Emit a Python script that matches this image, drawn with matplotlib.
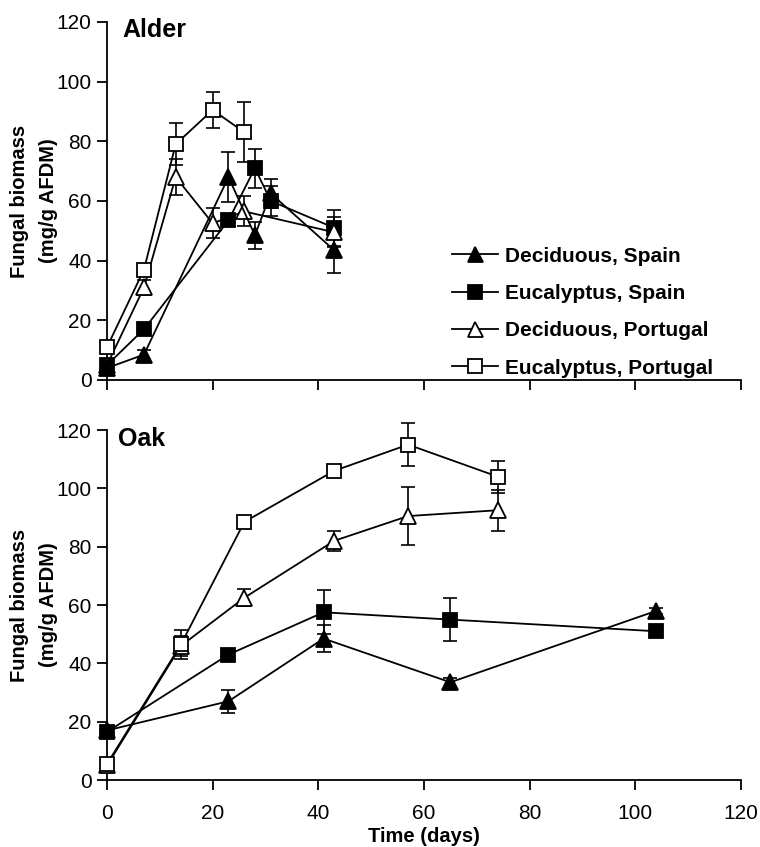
import matplotlib
matplotlib.use("Agg")
import matplotlib.pyplot as plt
from matplotlib.lines import Line2D

# ---- Alder (top panel) ----
alder_spain_days = [0, 7, 23, 28, 31, 43]
alder_dec_spain = [4, 8.5, 68, 48.5, 62.5, 43.5]
alder_dec_spain_err = [0.5, 1.5, 8.5, 4.5, 5, 7.5]
alder_euc_spain = [5, 17, 53.5, 71, 60, 51]
alder_euc_spain_err = [1, 2, 2, 6.5, 5, 6]

alder_port_days = [0, 7, 13, 20, 26, 43]
alder_dec_port = [5, 31, 68, 52.5, 56.5, 49.5]
alder_dec_port_err = [0.5, 2.5, 6, 5, 5, 5]
alder_euc_port_days = [0, 7, 13, 20, 26]
alder_euc_port = [11, 37, 79, 90.5, 83]
alder_euc_port_err = [1, 1.5, 7, 6, 10]

# ---- Oak (bottom panel) ----
oak_spain_days = [0, 23, 41, 65, 104]
oak_dec_spain = [17, 27, 48.5, 33.5, 58]
oak_dec_spain_err = [1, 4, 4.5, 1.5, 1]
oak_euc_spain = [16.5, 43, 57.5, 55, 51]
oak_euc_spain_err = [2, 1.5, 7.5, 7.5, 1]

oak_port_days = [0, 14, 26, 43, 57, 74]
oak_dec_port = [5, 46, 62.5, 82, 90.5, 92.5]
oak_dec_port_err = [0.5, 3.5, 3, 3.5, 10, 7]
oak_euc_port = [5.5, 46.5, 88.5, 106, 115, 104]
oak_euc_port_err = [0.5, 5, 1, 1, 7.5, 5.5]

labels = ["Deciduous, Spain", "Eucalyptus, Spain",
          "Deciduous, Portugal", "Eucalyptus, Portugal"]
xticks = [0, 20, 40, 60, 80, 100, 120]
yticks = [0, 20, 40, 60, 80, 100, 120]

font = ["Liberation Sans", "DejaVu Sans"]
plt.rcParams["font.family"] = font

# marker styles keyed by label
styles = {
    "Deciduous, Spain": dict(marker="^", mfc="black", ms=12),
    "Eucalyptus, Spain": dict(marker="s", mfc="black", ms=10.5),
    "Deciduous, Portugal": dict(marker="^", mfc="white", ms=12),
    "Eucalyptus, Portugal": dict(marker="s", mfc="white", ms=10.5),
}
# drawing order (later on top)
order = ["Eucalyptus, Spain", "Deciduous, Portugal",
         "Deciduous, Spain", "Eucalyptus, Portugal"]


def draw(ax, series):
    for i, lab in enumerate(order):
        x, y, e = series[lab]
        ax.errorbar(x, y, yerr=e, fmt="none", ecolor="black", elinewidth=1.2,
                    capsize=5, capthick=1.2, zorder=2 + i * 0.1, clip_on=False)
        ax.plot(x, y, color="black", lw=1.3, mec="black", mew=1.3,
                zorder=3 + i * 0.1, clip_on=False, **styles[lab])


def style_axes(ax, show_xlabels):
    ax.set_xlim(0, 120)
    ax.set_ylim(0, 120)
    ax.set_xticks(xticks)
    ax.set_yticks(yticks)
    for s in ["top", "right"]:
        ax.spines[s].set_visible(False)
    for s in ["left", "bottom"]:
        ax.spines[s].set_linewidth(1.3)
    ax.tick_params(direction="out", length=7, width=1.3, labelsize=15)
    ax.tick_params(axis="y", pad=4)
    ax.tick_params(axis="x", pad=10)
    if not show_xlabels:
        ax.set_xticklabels([])
    ax.set_ylabel("Fungal biomass\n(mg/g AFDM)", fontsize=14.5,
                  fontweight="bold", labelpad=-1, linespacing=1.65)


fig = plt.figure(figsize=(7.6, 8.47), dpi=100)
ax1 = fig.add_axes([0.1408, 0.5514, 0.834, 0.4227])
ax2 = fig.add_axes([0.1408, 0.0791, 0.834, 0.4132])

draw(ax1, {
    "Deciduous, Spain": (alder_spain_days, alder_dec_spain, alder_dec_spain_err),
    "Eucalyptus, Spain": (alder_spain_days, alder_euc_spain, alder_euc_spain_err),
    "Deciduous, Portugal": (alder_port_days, alder_dec_port, alder_dec_port_err),
    "Eucalyptus, Portugal": (alder_euc_port_days, alder_euc_port, alder_euc_port_err),
})
draw(ax2, {
    "Deciduous, Spain": (oak_spain_days, oak_dec_spain, oak_dec_spain_err),
    "Eucalyptus, Spain": (oak_spain_days, oak_euc_spain, oak_euc_spain_err),
    "Deciduous, Portugal": (oak_port_days, oak_dec_port, oak_dec_port_err),
    "Eucalyptus, Portugal": (oak_port_days, oak_euc_port, oak_euc_port_err),
})

style_axes(ax1, False)
style_axes(ax2, True)

ax1.text(0.024, 1.01, "Alder", transform=ax1.transAxes, fontsize=18,
         fontweight="bold", va="top", ha="left")
ax2.text(0.017, 1.01, "Oak", transform=ax2.transAxes, fontsize=18,
         fontweight="bold", va="top", ha="left")

ax2.set_xlabel("Time (days)", fontsize=14.5, fontweight="bold", labelpad=3)

handles = []
for lab in labels:
    st = styles[lab]
    handles.append(Line2D([], [], color="black", lw=1.3, mec="black", mew=1.3,
                          marker=st["marker"], mfc=st["mfc"],
                          ms=st["ms"] * 0.9))
leg = ax1.legend(handles, labels, loc="upper left",
                 bbox_to_anchor=(0.545, 0.372), frameon=False,
                 prop=dict(weight="bold", size=15),
                 handlelength=2.2, handletextpad=0.3, labelspacing=0.88,
                 borderaxespad=0, borderpad=0)

fig.savefig("out.png", dpi=100)
